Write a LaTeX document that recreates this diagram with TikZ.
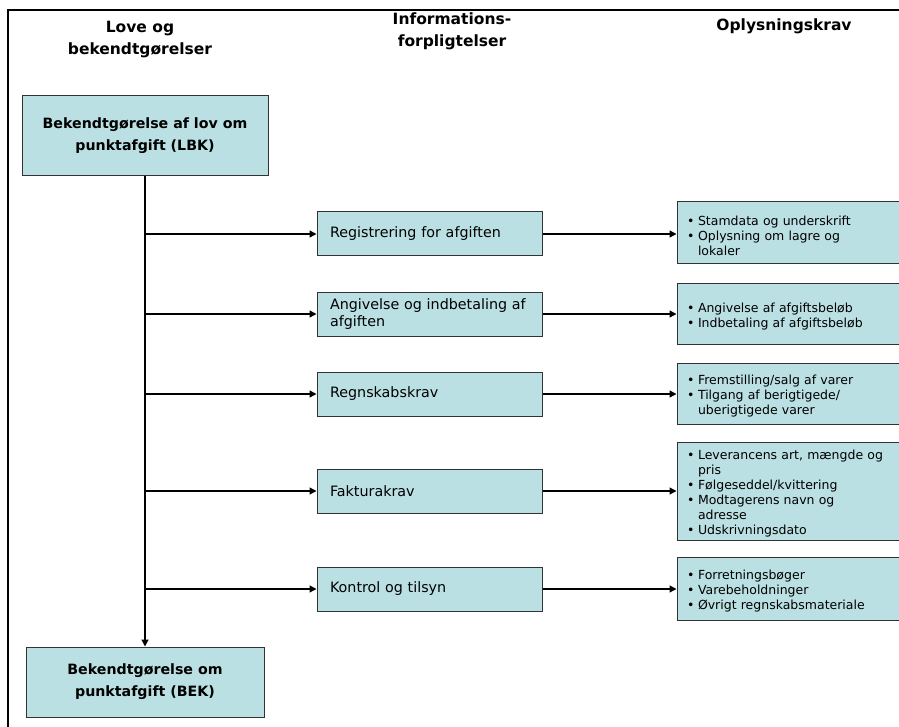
\documentclass[tikz,border=0pt]{standalone}
\usepackage{fontspec}
\setmainfont{DejaVu Sans}
\usetikzlibrary{arrows.meta,positioning}
\definecolor{boxfill}{RGB}{187,224,227}

% bullet line with hanging indent
\newcommand{\bul}[1]{\par\hangindent=11pt\hangafter=1\noindent\makebox[11pt][l]{\textbullet}#1\par}

\begin{document}
\begin{tikzpicture}[x=1pt,y=-1pt]
    \tikzset{box/.style={draw=black!80, fill=boxfill, line width=1pt, inner ysep=0pt},
        head/.style={font=\bfseries\fontsize{15.5}{22}\selectfont, align=center},
        lawbox/.style={box, font=\bfseries\fontsize{14.2}{22}\selectfont, align=center},
        dutybox/.style={box, minimum width=225pt, minimum height=44pt, inner xsep=13pt,
            text width=199pt, align=left, font=\fontsize{14.3}{17}\selectfont},
        reqbox/.style={box, minimum width=222pt, inner xsep=10pt, text width=202pt,
            font=\fontsize{12.5}{15}\selectfont},
        arr/.style={line width=1.3pt, -{Triangle[length=7pt,width=7pt]}}}

    \useasboundingbox (0,0) rectangle (899,727);
    \draw[line width=2pt] (8,727) -- (8,10) -- (899,10);

    % column heads
    \node[head] (hlaw) at (140,40) {Love og\\bekendtgørelser};
    \node[head] (hduty) at (452,31) {Informations-\\forpligtelser};
    \node[head] (hreq) at (784,26) {Oplysningskrav};

    % laws
    \node[lawbox, minimum width=246pt, minimum height=80pt] (lbk) at (145,136) {Bekendtgørelse af lov om\\punktafgift (LBK)};
    \node[lawbox, minimum width=238pt, minimum height=70pt] (bek) at (145,682) {Bekendtgørelse om\\punktafgift (BEK)};

    % duties
    \node[dutybox] (reg) at (429.5,234) {Registrering for afgiften};
    \node[dutybox] (ang) at (429.5,314) {Angivelse og indbetaling af\\afgiften};
    \node[dutybox] (regn) at (429.5,394) {Regnskabskrav};
    \node[dutybox] (fak) at (429.5,491) {Fakturakrav};
    \node[dutybox] (kon) at (429.5,589) {Kontrol og tilsyn};

    % requirements
    \node[reqbox, minimum height=62pt] (stam) at (788,233) {\bul{Stamdata og underskrift}\bul{Oplysning om lagre og\newline lokaler}};
    \node[reqbox, minimum height=61pt] (bel) at (788,313.5) {\bul{Angivelse af afgiftsbeløb}\bul{Indbetaling af afgiftsbeløb}};
    \node[reqbox, minimum height=61pt] (var) at (788,393.5) {\bul{Fremstilling/salg af varer}\bul{Tilgang af berigtigede/\newline uberigtigede varer}};
    \node[reqbox, minimum height=98pt] (lev) at (788,491) {\bul{Leverancens art, mængde og\newline pris}\bul{Følgeseddel/kvittering}\bul{Modtagerens navn og\newline adresse}\bul{Udskrivningsdato}};
    \node[reqbox, minimum height=63pt] (bog) at (788,588.5) {\bul{Forretningsbøger}\bul{Varebeholdninger}\bul{Øvrigt regnskabsmateriale}};

    \draw[arr] (lbk) -- (bek);
    \foreach \n/\m in {reg/stam, ang/bel, regn/var, fak/lev, kon/bog} {
        \draw[arr] (lbk.south |- \n.west) -- (\n.west);
        \draw[arr] (\n.east) -- (\n.east -| \m.west);
    }
\end{tikzpicture}
\end{document}
